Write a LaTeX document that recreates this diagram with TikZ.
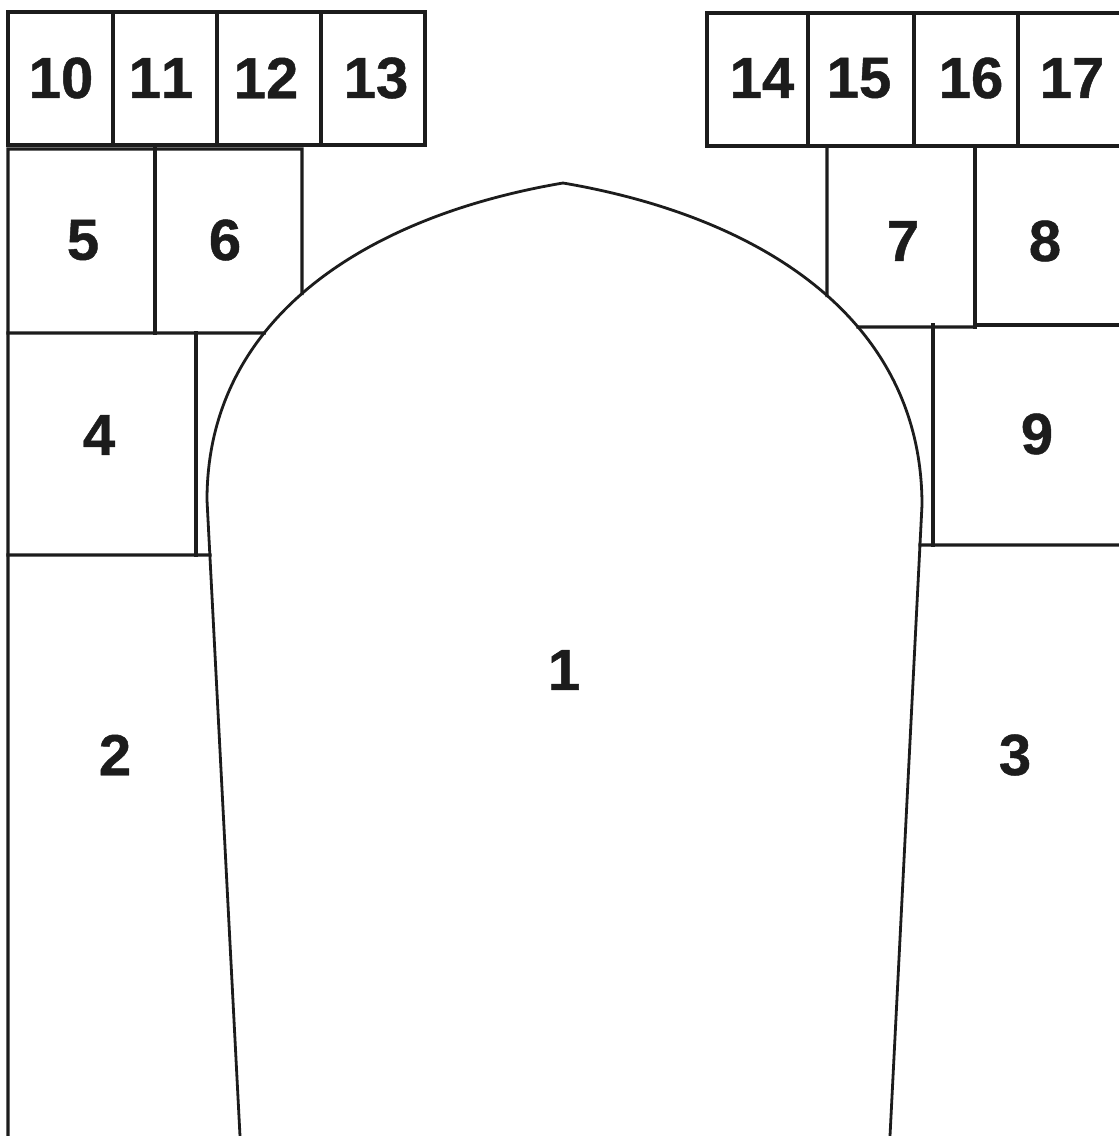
\documentclass[tikz,border=0pt]{standalone}
\usepackage{fontspec}
\setmainfont{Liberation Sans}
\newfontfamily\lblfont{Liberation Sans Bold}[FakeBold=0.8,Kerning=Off]
\usetikzlibrary{intersections}
\definecolor{ink}{HTML}{1C1C1C}
\begin{document}
\begin{tikzpicture}[x=1pt,y=-1pt,
  wall/.style={line width=3.3pt, draw=ink, line cap=rect},
  archline/.style={line width=2.8pt, draw=ink},
  lbl/.style={font=\lblfont\fontsize{58}{60}\selectfont, text=ink, inner sep=0pt}]
\useasboundingbox (0,0) rectangle (1119,1136);
\fill[white] (0,0) rectangle (1119,1136);

% central arch (region 1)
\draw[archline, name path=arch] (240,1136) -- (207,500)
  .. controls (207,320) and (363,217) .. (563,183)
  .. controls (763,217) and (922,320) .. (922,505) -- (890,1136);

% helper paths
\path[name path=v302] (302,140) -- (302,400);
\path[name path=h333] (8,333) -- (400,333);
\path[name path=h555] (8,555) -- (400,555);
\path[name path=v827] (827,140) -- (827,400);
\path[name path=h327] (700,327) -- (975,327);
\path[name path=h545] (700,545) -- (1119,545);
\path[name intersections={of=arch and v302, by=i302}];
\path[name intersections={of=arch and h333, by=i333}];
\path[name intersections={of=arch and h555, by=i555}];
\path[name intersections={of=arch and v827, by=i827}];
\path[name intersections={of=arch and h327, by=i327}];
\path[name intersections={of=arch and h545, by=i545}];

% top row left (10-13)
\draw[wall] (8,12) rectangle (425,145);
\foreach \xx in {113,217,321} \draw[wall] (\xx,12) -- (\xx,145);
% top row right (14-17)
\draw[wall] (1119,13) -- (707,13) -- (707,146) -- (1119,146);
\foreach \xx in {808,914,1018} \draw[wall] (\xx,13) -- (\xx,146);

% left blocks (5, 6, 4, 2)
\draw[wall] (8,1136) -- (8,149) -- (302,149) -- (i302);
\draw[wall] (155,149) -- (155,333);
\draw[wall] (8,333) -- (i333);
\draw[wall] (196,333) -- (196,555);
\draw[wall] (8,555) -- (i555);

% right blocks (7, 8, 9, 3)
\draw[wall] (i827) -- (827,146);
\draw[wall] (975,146) -- (975,327);
\draw[wall] (i327) -- (975,327);
\draw[wall] (975,325) -- (1119,325);
\draw[wall] (933,325) -- (933,545);
\draw[wall] (i545) -- (1119,545);

% labels
\node[lbl] (n10) at (61,78) {10};
\node[lbl] (n11) at (161,78) {11};
\node[lbl] (n12) at (266,78) {12};
\node[lbl] (n13) at (376,78) {13};
\node[lbl] (n14) at (762,78) {14};
\node[lbl] (n15) at (859,78) {15};
\node[lbl] (n16) at (971,78) {16};
\node[lbl] (n17) at (1072,78) {17};
\node[lbl] (n5) at (83,240) {5};
\node[lbl] (n6) at (225,240) {6};
\node[lbl] (n7) at (903,241) {7};
\node[lbl] (n8) at (1045,241) {8};
\node[lbl] (n4) at (99,435) {4};
\node[lbl] (n9) at (1037,434) {9};
\node[lbl] (n1) at (564,670) {1};
\node[lbl] (n2) at (115,755) {2};
\node[lbl] (n3) at (1015,755) {3};
\end{tikzpicture}
\end{document}
